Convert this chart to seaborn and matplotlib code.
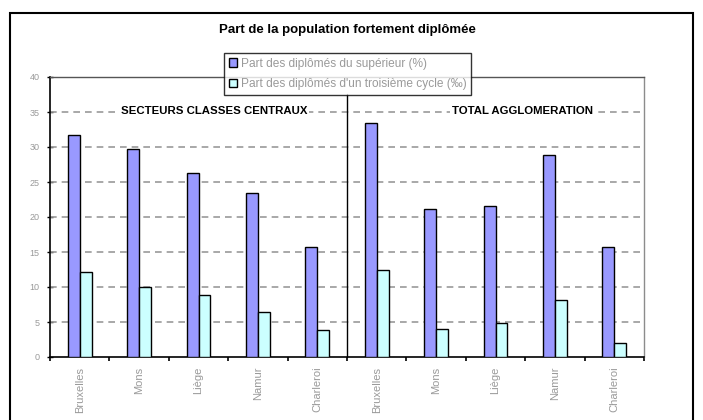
import matplotlib
matplotlib.use("Agg")
import matplotlib.pyplot as plt
import seaborn as sns
import pandas as pd
from matplotlib.patches import Rectangle, Patch

# Data
cities = ["Bruxelles", "Mons", "Liège", "Namur", "Charleroi"]
zones = ["SECTEURS CLASSES CENTRAUX", "TOTAL AGGLOMERATION"]
series = ["Part des diplômés du supérieur (%)",
          "Part des diplômés d'un troisième cycle (‰)"]
sup_centraux = [31.7, 29.7, 26.3, 23.4, 15.7]
cycle3_centraux = [12.2, 10.0, 8.8, 6.5, 3.9]
sup_agglo = [33.4, 21.1, 21.6, 28.9, 15.7]
cycle3_agglo = [12.5, 4.0, 4.9, 8.2, 2.0]
y_ticks = [0, 5, 10, 15, 20, 25, 30, 35, 40]
title = "Part de la population fortement diplômée"

# Long table: one slot per (zone, city)
rows = []
slots = []
for zone, sup, c3 in [(zones[0], sup_centraux, cycle3_centraux),
                      (zones[1], sup_agglo, cycle3_agglo)]:
    for city, v1, v2 in zip(cities, sup, c3):
        key = f"{zone}|{city}"
        slots.append(key)
        rows.append({"slot": key, "serie": series[0], "value": v1})
        rows.append({"slot": key, "serie": series[1], "value": v2})
df = pd.DataFrame(rows)

sns.set_theme(style="white")
plt.rcParams["font.family"] = ["Liberation Sans", "DejaVu Sans"]

colors = ["#9999FF", "#CCFFFF"]
grey_txt = "#9a9a9a"

fig = plt.figure(figsize=(7.03, 4.2), dpi=100)
W, H = 703, 420
ax = fig.add_axes([50 / W, 1 - 357 / H, 594 / W, 280 / H])

sns.barplot(data=df, x="slot", y="value", hue="serie", order=slots,
            hue_order=series, palette=colors, width=0.4,
            edgecolor="black", linewidth=1.0, saturation=1,
            legend=False, ax=ax, zorder=3)

ax.set_xlim(-0.5, len(slots) - 0.5)
ax.set_ylim(0, 40)
ax.set_xlabel("")
ax.set_ylabel("")

# dashed gridlines
for y in y_ticks[1:-1]:
    ax.axhline(y, color="#999999", lw=1.2, linestyle=(0, (4, 3)), zorder=1)

# frame
for s in ["left", "bottom"]:
    ax.spines[s].set_color("black")
    ax.spines[s].set_linewidth(1.2)
ax.spines["top"].set_color("#555555")
ax.spines["top"].set_linewidth(1.0)
ax.spines["right"].set_color("#8c8c8c")
ax.spines["right"].set_linewidth(1.0)

ax.set_yticks(y_ticks)
ax.set_yticklabels([str(v) for v in y_ticks])
ax.tick_params(axis="y", which="major", direction="inout", length=5,
               width=1, color="black", labelcolor=grey_txt, labelsize=6.5,
               pad=5, left=True)

ax.set_xticks(range(len(slots)))
ax.set_xticklabels([s.split("|")[1] for s in slots], rotation=90,
                   color=grey_txt, fontsize=8, va="top")
ax.tick_params(axis="x", which="major", length=0, pad=7)
ax.set_xticks([i - 0.5 for i in range(len(slots) + 1)], minor=True)
ax.tick_params(axis="x", which="minor", direction="out", length=3,
               width=1.2, color="black", bottom=True)

# separator between the two zones
ax.plot([4.5, 4.5], [0, 37.6], color="black", lw=1, zorder=2,
        clip_on=False)

# zone headings
for xpos, label in [(2.26, zones[0]), (7.45, zones[1])]:
    ax.text(xpos, 35.2, label, ha="center", va="center", fontsize=8.2,
            fontweight="bold", color="black", zorder=4,
            bbox=dict(facecolor="white", edgecolor="none", pad=1))

# legend
handles = [Patch(facecolor=c, edgecolor="black", linewidth=1) for c in colors]
leg = fig.legend(handles, series, loc="upper left",
                 bbox_to_anchor=(224 / W, 1 - 53 / H), frameon=True,
                 fontsize=8.6, handlelength=0.7, handleheight=0.7,
                 handletextpad=0.3, labelspacing=0.7, borderpad=0.4,
                 fancybox=False, borderaxespad=0)
leg.get_frame().set_edgecolor("black")
leg.get_frame().set_linewidth(1.0)
leg.set_zorder(10)
for t in leg.get_texts():
    t.set_color(grey_txt)

# title
fig.text(347 / W, 1 - 30 / H, title, ha="center", va="center",
         fontsize=9.5, fontweight="bold", color="black")

# outer border
fig.patches.append(Rectangle((10 / W, -0.05), 683 / W, 1 - 13 / H + 0.05,
                             transform=fig.transFigure, fill=False,
                             edgecolor="black", linewidth=1.5))

fig.savefig("out.png", dpi=100)
